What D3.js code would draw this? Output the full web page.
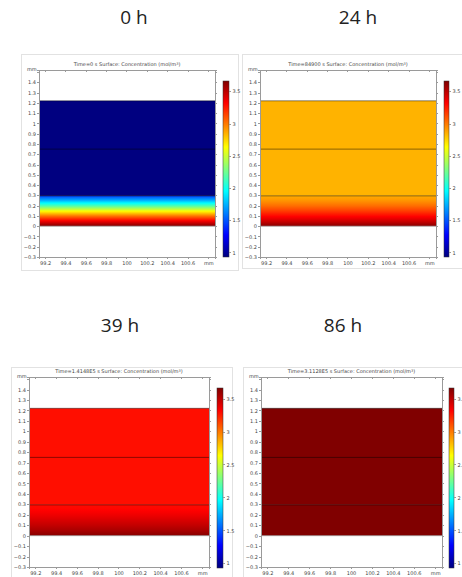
<!DOCTYPE html>
<html>
<head>
<meta charset="utf-8">
<script src="https://cdn.jsdelivr.net/npm/d3@7"></script>
<style>
  body { margin: 0; background: #fff; }
  svg { display: block; }
  .axis path, .axis line { stroke: #9a9a9a; shape-rendering: crispEdges; }
  .axis text { fill: #444; font: 5px "DejaVu Sans", sans-serif; }
  .small { fill: #444; font: 5px "DejaVu Sans", sans-serif; }
  .head { fill: #222; font: 19px "Open Sans", sans-serif; }
</style>
</head>
<body>
<div id="chart"></div>
<script>
// Panel headings and simulation times
const hours = ["0 h", "24 h", "39 h", "86 h"];
const times = ["0", "84900", "1.4148E5", "3.1128E5"];

// Concentration profile through the bottom layer (depth in mm)
const depths = [0, 0.05, 0.1, 0.15, 0.2, 0.25, 0.295];
const conc0h  = [3.66, 3.35, 3.0, 2.6, 2.15, 1.75, 1.45];
const conc24h = [3.64, 3.45, 3.3, 3.15, 3.02, 2.92, 2.86];
const conc39h = [3.64, 3.55, 3.48, 3.42, 3.36, 3.31, 3.29];
const conc86h = [3.66, 3.66, 3.66, 3.66, 3.66, 3.66, 3.66];
const profiles = [conc0h, conc24h, conc39h, conc86h];

// Uniform concentration in the two upper layers
const upperConc = [0.93, 2.84, 3.28, 3.66];

// Layer boundaries (mm) and geometry width (mm)
const layerBounds = [0, 0.295, 0.75, 1.22];
const xExtent = [99.14, 100.87];
const yExtent = [-0.3, 1.52];

// Tick labels
const xTicks = [99.2, 99.4, 99.6, 99.8, 100, 100.2, 100.4, 100.6, 100.8];
const yTicks = [-0.3, -0.2, -0.1, 0, 0.1, 0.2, 0.3, 0.4, 0.5, 0.6, 0.7, 0.8, 0.9, 1, 1.1, 1.2, 1.3, 1.4, 1.5];
const cTicks = [1, 1.5, 2, 2.5, 3, 3.5];
const cRange = [0.93, 3.66];

// Layout of the four panels: [x0, y0, x1, y1]
const layout = [
  {frame: [21, 54, 238, 270], plot: [39, 70, 215, 257], cbar: [223, 81, 229, 257], head: [134, 24]},
  {frame: [242, 54, 470, 268], plot: [260, 70, 436, 257], cbar: [444, 81, 449, 257], head: [358, 24]},
  {frame: [11, 367, 232, 590], plot: [29, 377, 209, 567], cbar: [217, 388, 223, 568], head: [120, 332]},
  {frame: [243, 367, 470, 590], plot: [261, 377, 442, 567], cbar: [449, 388, 454, 568], head: [343, 332]}
];

const W = 462, H = 577;

// jet colour map
const jet = d3.scaleLinear()
    .domain([0, 1/8, 3/8, 5/8, 7/8, 1])
    .range(["#000080", "#0000ff", "#00ffff", "#ffff00", "#ff0000", "#800000"])
    .clamp(true);
const norm = d3.scaleLinear().domain(cRange).range([0, 1]).clamp(true);
const colour = function(v) { return jet(norm(v)); };

const svg = d3.select("#chart").append("svg")
    .attr("width", W)
    .attr("height", H);
const defs = svg.append("defs");

// colour bar gradient (shared)
const cg = defs.append("linearGradient")
    .attr("id", "cbarGrad")
    .attr("x1", 0).attr("y1", 1).attr("x2", 0).attr("y2", 0);
cg.selectAll("stop")
  .data(jet.domain())
  .enter().append("stop")
    .attr("offset", function(d) { return d; })
    .attr("stop-color", function(d) { return jet(d); });

layout.forEach(function(L, i) {
    const g = svg.append("g");
    const p = L.plot;

    // heading
    svg.append("text")
        .attr("class", "head")
        .attr("x", L.head[0])
        .attr("y", L.head[1])
        .attr("text-anchor", "middle")
        .text(hours[i]);

    // window frame
    g.append("rect")
        .attr("x", L.frame[0] + 0.5).attr("y", L.frame[1] + 0.5)
        .attr("width", L.frame[2] - L.frame[0]).attr("height", L.frame[3] - L.frame[1])
        .attr("fill", "#fff")
        .attr("stroke", "#e2e2e2");

    const x = d3.scaleLinear().domain(xExtent).range([p[0], p[2]]);
    const y = d3.scaleLinear().domain(yExtent).range([p[3], p[1]]);

    // gradient for bottom layer, sampled through the profile
    const prof = profiles[i];
    const lin = d3.scaleLinear().domain(depths).range(prof);
    const gid = "layerGrad" + i;
    const lg = defs.append("linearGradient")
        .attr("id", gid)
        .attr("gradientUnits", "userSpaceOnUse")
        .attr("x1", 0).attr("x2", 0)
        .attr("y1", y(layerBounds[0])).attr("y2", y(layerBounds[1]));
    lg.selectAll("stop")
      .data(d3.range(0, 1.0001, 1 / 40))
      .enter().append("stop")
        .attr("offset", function(d) { return d; })
        .attr("stop-color", function(d) { return colour(lin(d * layerBounds[1])); });

    // bottom layer
    g.append("rect")
        .attr("x", x(xExtent[0]))
        .attr("y", y(layerBounds[1]))
        .attr("width", x(xExtent[1]) - x(xExtent[0]))
        .attr("height", y(layerBounds[0]) - y(layerBounds[1]))
        .attr("fill", "url(#" + gid + ")");

    // upper layers
    g.append("rect")
        .attr("x", x(xExtent[0]))
        .attr("y", y(layerBounds[3]))
        .attr("width", x(xExtent[1]) - x(xExtent[0]))
        .attr("height", y(layerBounds[1]) - y(layerBounds[3]))
        .attr("fill", colour(upperConc[i]));

    // layer boundaries
    g.selectAll(".bound")
      .data(layerBounds)
      .enter().append("line")
        .attr("x1", x(xExtent[0])).attr("x2", x(xExtent[1]))
        .attr("y1", function(d) { return y(d); })
        .attr("y2", function(d) { return y(d); })
        .attr("stroke", function(d, k) { return k === 0 ? "#9a9a9a" : "#000"; })
        .attr("stroke-opacity", function(d, k) { return k === 0 ? 1 : 0.65; })
        .attr("stroke-width", 0.7);

    // axes
    const fmtY = function(d) { return d === 1.5 ? "" : d3.format("~g")(d); };
    const fmtX = function(d) { return d === 100.8 ? "" : d3.format("~g")(d); };
    g.append("g").attr("class", "axis")
        .attr("transform", "translate(" + p[0] + ",0)")
        .call(d3.axisLeft(y).tickValues(yTicks).tickSize(2).tickPadding(1).tickFormat(fmtY));
    g.append("g").attr("class", "axis")
        .attr("transform", "translate(" + p[2] + ",0)")
        .call(d3.axisLeft(y).tickValues(yTicks).tickSize(-2).tickFormat(""));
    g.append("g").attr("class", "axis")
        .attr("transform", "translate(0," + p[3] + ")")
        .call(d3.axisBottom(x).tickValues(xTicks).tickSize(2).tickPadding(2).tickFormat(fmtX));
    g.append("g").attr("class", "axis")
        .attr("transform", "translate(0," + p[1] + ")")
        .call(d3.axisBottom(x).tickValues(xTicks).tickSize(2).tickFormat(""));
    g.selectAll(".axis path").attr("stroke", "#9a9a9a");

    // unit labels
    g.append("text").attr("class", "small")
        .attr("x", p[0] - 12).attr("y", p[1] + 1)
        .text("mm");
    g.append("text").attr("class", "small")
        .attr("x", x(100.8) + 1).attr("y", p[3] + 8)
        .attr("text-anchor", "middle")
        .text("mm");

    // title
    const t = g.append("text").attr("class", "small")
        .attr("x", (p[0] + p[2]) / 2).attr("y", p[1] - 4)
        .attr("text-anchor", "middle");
    t.append("tspan").text("Time=" + times[i] + " s   Surface: Concentration (mol/m");
    t.append("tspan").attr("dy", -1.5).style("font-size", "3.5px").text("3");
    t.append("tspan").attr("dy", 1.5).text(")");

    // colour bar
    const cb = L.cbar;
    const cy = d3.scaleLinear().domain(cRange).range([cb[3], cb[1]]);
    g.append("rect")
        .attr("x", cb[0]).attr("y", cb[1])
        .attr("width", cb[2] - cb[0]).attr("height", cb[3] - cb[1])
        .attr("fill", "url(#cbarGrad)")
        .attr("stroke", "#333").attr("stroke-width", 0.5);
    g.append("g").attr("class", "axis")
        .attr("transform", "translate(" + cb[2] + ",0)")
        .call(d3.axisRight(cy).tickValues(cTicks).tickSize(1.5).tickPadding(2).tickFormat(d3.format("~g")))
        .select(".domain").remove();
});
</script>
</body>
</html>
